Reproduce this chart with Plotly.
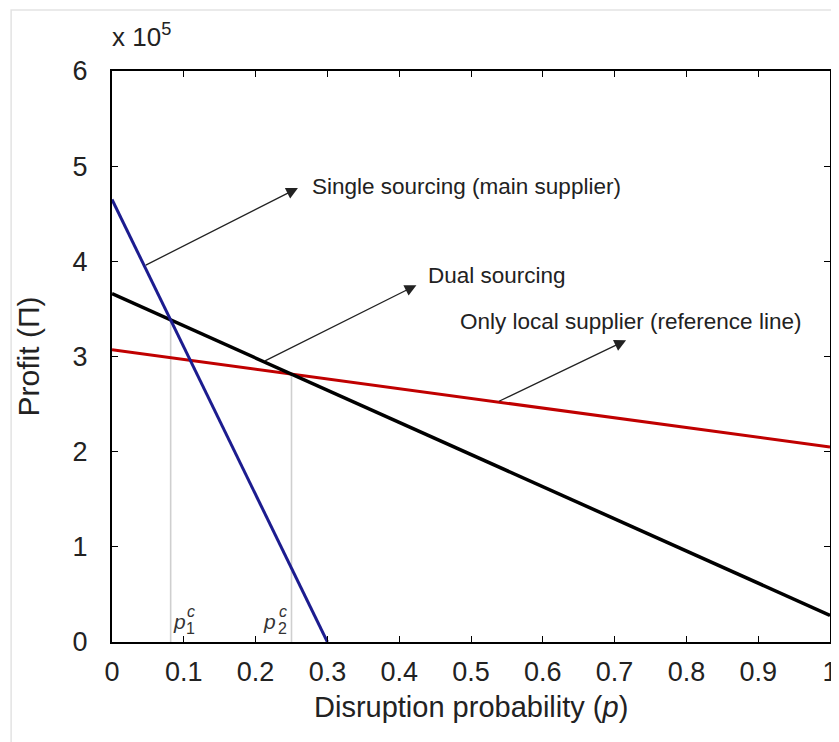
import numpy as np
import plotly.graph_objects as go

# ---- data ----
p_single = [0.0, 0.30]
profit_single = [4.65, 0.0]          # x 10^5
p_dual = [0.0, 1.0]
profit_dual = [3.66, 0.28]
p_local = [0.0, 1.0]
profit_local = [3.07, 2.05]

x_ticks = [0, 0.1, 0.2, 0.3, 0.4, 0.5, 0.6, 0.7, 0.8, 0.9, 1]
x_ticklabels = ["0", "0.1", "0.2", "0.3", "0.4", "0.5", "0.6", "0.7", "0.8", "0.9", "1"]
y_ticks = [0, 1, 2, 3, 4, 5, 6]
y_ticklabels = ["0", "1", "2", "3", "4", "5", "6"]

series_labels = ["Single sourcing (main supplier)", "Dual sourcing",
                 "Only local supplier (reference line)"]


def line_coeffs(px, py):
    slope = (py[1] - py[0]) / (px[1] - px[0])
    return slope, py[0] - slope * px[0]


def intersect(a, b):
    s1, c1 = a
    s2, c2 = b
    x = (c2 - c1) / (s1 - s2)
    return x, s1 * x + c1


L_single = line_coeffs(p_single, profit_single)
L_dual = line_coeffs(p_dual, profit_dual)
L_local = line_coeffs(p_local, profit_local)
p1c = intersect(L_single, L_dual)
p2c = intersect(L_dual, L_local)

FONT = "Liberation Sans, Arial, Helvetica, sans-serif"
BLUE = "#1c1c8f"
RED = "#c00000"
GREY = "#cfcfcf"
TXT = "#222222"

fig = go.Figure()

# critical-point vertical guides
for pc in (p1c, p2c):
    fig.add_trace(go.Scatter(x=[pc[0], pc[0]], y=[0, pc[1]], mode="lines",
                             line=dict(color=GREY, width=1.6), hoverinfo="skip",
                             showlegend=False))

fig.add_trace(go.Scatter(x=p_local, y=profit_local, mode="lines",
                         line=dict(color=RED, width=3), name=series_labels[2],
                         showlegend=False))
fig.add_trace(go.Scatter(x=p_dual, y=profit_dual, mode="lines",
                         line=dict(color="black", width=3.5), name=series_labels[1],
                         showlegend=False))
fig.add_trace(go.Scatter(x=p_single, y=profit_single, mode="lines",
                         line=dict(color=BLUE, width=3), name=series_labels[0],
                         showlegend=False))

annotations = []

# arrows: tail on the line, head towards the label
arrow_specs = [
    (p_single, profit_single, 0.045, 0.259, 4.77),
    (p_dual, profit_dual, 0.211, 0.424, 3.75),
    (p_local, profit_local, 0.537, 0.716, 3.17),
]
for px, py, tail_p, head_x, head_y in arrow_specs:
    tail_y = float(np.interp(tail_p, px, py))
    annotations.append(dict(x=head_x, y=head_y, xref="x", yref="y",
                            ax=tail_p, ay=tail_y, axref="x", ayref="y",
                            text="", showarrow=True, arrowhead=2, arrowsize=1.8,
                            arrowwidth=1.3, arrowcolor="#222222"))

text_pos = [(0.2755, 4.79), (0.438, 3.85), (0.482, 3.37)]
for (tx, ty), lab in zip(text_pos, series_labels):
    annotations.append(dict(x=tx, y=ty, xref="x", yref="y", text=lab,
                            showarrow=False, xanchor="left", yanchor="middle",
                            font=dict(family=FONT, size=22.5, color=TXT)))

# critical point labels p_1^c, p_2^c
for pc, idx, dx_p, dx_s in ((p1c, "1", 8.5, 20), (p2c, "2", -22, -9)):
    annotations.append(dict(x=pc[0], y=0, xref="x", yref="y", text="<i>p</i>",
                            showarrow=False, xanchor="center", yanchor="middle",
                            xshift=dx_p, yshift=21,
                            font=dict(family=FONT, size=21, color="#333333")))
    annotations.append(dict(x=pc[0], y=0, xref="x", yref="y", text="<i>c</i>",
                            showarrow=False, xanchor="center", yanchor="middle",
                            xshift=dx_s, yshift=31,
                            font=dict(family=FONT, size=16, color="#333333")))
    annotations.append(dict(x=pc[0], y=0, xref="x", yref="y", text=idx,
                            showarrow=False, xanchor="center", yanchor="middle",
                            xshift=dx_s, yshift=14,
                            font=dict(family=FONT, size=16, color="#333333")))

# exponent label
annotations.append(dict(x=-0.003, y=1.063, xref="paper", yref="paper",
                        text="x 10<sup>5</sup>", showarrow=False,
                        xanchor="left", yanchor="middle",
                        font=dict(family=FONT, size=26, color=TXT)))
# axis titles
annotations.append(dict(x=-0.1157, y=0.5, xref="paper", yref="paper",
                        text="Profit (\u03a0)", textangle=-90, showarrow=False,
                        xanchor="center", yanchor="middle",
                        font=dict(family=FONT, size=30, color=TXT)))
annotations.append(dict(x=0.5, y=-0.113, xref="paper", yref="paper",
                        text="Disruption probability (<i>p</i>)", showarrow=False,
                        xanchor="center", yanchor="middle",
                        font=dict(family=FONT, size=29, color=TXT)))

# page body adds an 8px offset, so the figure is sized to fit inside the window
fig.update_layout(
    width=831, height=734,
    margin=dict(l=104, r=1, t=63, b=100),
    paper_bgcolor="white", plot_bgcolor="white",
    annotations=annotations,
    shapes=[dict(type="rect", xref="paper", yref="paper",
                 x0=-0.1405, x1=1.1, y0=-0.3, y1=1.1068,
                 line=dict(color="#e3e3e3", width=1.5), layer="below")],
    font=dict(family=FONT, color=TXT),
)
fig.update_xaxes(range=[0, 1], tickvals=x_ticks, ticktext=x_ticklabels,
                 showgrid=False, zeroline=False, showline=True, linecolor="black",
                 linewidth=2, mirror="ticks", ticks="inside", ticklen=6,
                 tickwidth=1.2, tickcolor="black", ticklabelstandoff=5,
                 ticklabeloverflow="allow",
                 tickfont=dict(family=FONT, size=27, color=TXT))
fig.update_yaxes(range=[0, 6], tickvals=y_ticks, ticktext=y_ticklabels,
                 showgrid=False, zeroline=False, showline=True, linecolor="black",
                 linewidth=2, mirror="ticks", ticks="inside", ticklen=6,
                 tickwidth=1.2, tickcolor="black", ticklabelstandoff=17,
                 ticklabeloverflow="allow",
                 tickfont=dict(family=FONT, size=27, color=TXT))

fig.write_html("out.html")
